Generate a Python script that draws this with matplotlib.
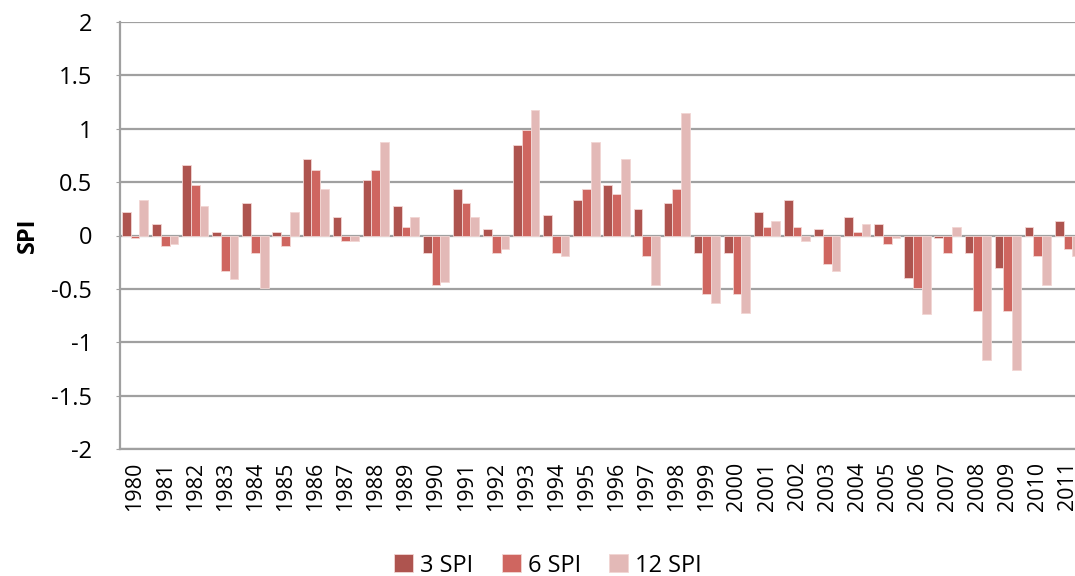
import numpy as np
import matplotlib
matplotlib.use("Agg")
from matplotlib import pyplot as plt

plt.rcParams['font.family'] = ['Open Sans', 'DejaVu Sans']

years = [str(y) for y in range(1980, 2012)]

spi3 = [0.22, 0.11, 0.66, 0.03, 0.30, 0.03, 0.72, 0.17, 0.52, 0.28,
        -0.16, 0.44, 0.06, 0.85, 0.19, 0.33, 0.47, 0.25, 0.30, -0.16,
        -0.16, 0.22, 0.33, 0.06, 0.17, 0.11, -0.40, -0.02, -0.16, -0.30,
        0.08, 0.14]
spi6 = [-0.02, -0.10, 0.47, -0.33, -0.16, -0.10, 0.61, -0.05, 0.61, 0.08,
        -0.46, 0.30, -0.16, 0.99, -0.16, 0.44, 0.39, -0.19, 0.44, -0.55,
        -0.55, 0.08, 0.08, -0.27, 0.03, -0.08, -0.49, -0.16, -0.71, -0.71,
        -0.19, -0.13]
spi12 = [0.33, -0.08, 0.28, -0.41, -0.49, 0.22, 0.44, -0.05, 0.88, 0.17,
         -0.44, 0.17, -0.13, 1.18, -0.19, 0.88, 0.72, -0.46, 1.15, -0.63,
         -0.73, 0.14, -0.05, -0.33, 0.11, -0.02, -0.74, 0.08, -1.17, -1.26,
         -0.46, -0.19]

series = [('3 SPI', spi3, '#AE544F'),
          ('6 SPI', spi6, '#CF6660'),
          ('12 SPI', spi12, '#E3B9B7')]

fig = plt.figure(figsize=(10.75, 5.76), dpi=100)
# plot area runs past the right edge, as in the original
ax = fig.add_axes([120 / 1075, 1 - 449 / 576, 963 / 1075, 427 / 576])

x = np.arange(len(years))
w = 0.29
for i, (name, vals, col) in enumerate(series):
    ax.bar(x + (i - 1) * w, vals, w, color=col, label=name,
           edgecolor='#F2D6D4', linewidth=0.6, zorder=3)

ax.set_xlim(-0.5, len(years) - 0.5)
ax.set_ylim(-2, 2)
ax.set_yticks(np.arange(-2, 2.01, 0.5))
ax.set_yticklabels(['-2', '-1.5', '-1', '-0.5', '0', '0.5', '1', '1.5', '2'])
ax.set_xticks(x)
ax.set_xticklabels(years, rotation=90)

ax.grid(axis='y', color='#A0A0A0', linewidth=1.6, zorder=0)
ax.set_axisbelow(True)
for s in ['top', 'right']:
    ax.spines[s].set_visible(False)
ax.spines['left'].set_color('#A0A0A0')
ax.spines['left'].set_linewidth(1.6)
ax.spines['bottom'].set_color('#A0A0A0')
ax.spines['bottom'].set_linewidth(1.6)

ax.tick_params(axis='y', labelsize=17, length=3, color='#A0A0A0', pad=17)
ax.tick_params(axis='x', labelsize=15.5, length=0, pad=9)

ax.set_ylabel('SPI', fontsize=17, fontweight='bold')
ax.yaxis.set_label_coords(-0.083, 0.5)

fig.legend(loc='center', bbox_to_anchor=(0.51, 0.018), ncol=3, frameon=False,
           fontsize=17, handlelength=0.8, handleheight=0.8,
           handletextpad=0.3, columnspacing=1.2)

plt.savefig('out.png', dpi=100)
